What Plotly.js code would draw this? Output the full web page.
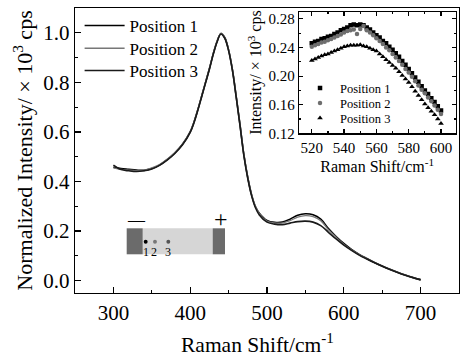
<!DOCTYPE html>
<html>
<head>
<meta charset="utf-8">
<script src="https://cdn.plot.ly/plotly-3.0.1.min.js"></script>
<style>html,body{margin:0;padding:0;background:#fff}#chart{width:460px;height:356px}</style>
</head>
<body>
<div id="chart"></div>
<script>
// Main spectra (normalized)
const mainX = [300,310,320,330,340,350,360,370,380,390,400,405,410,415,420,425,430,435,440,445,450,455,460,465,470,475,480,485,490,500,510,520,530,540,550,560,570,580,590,600,610,620,630,640,650,660,670,680,690,700];
const main1 = [0.458,0.452,0.449,0.446,0.445,0.452,0.466,0.488,0.515,0.550,0.600,0.640,0.690,0.745,0.800,0.855,0.915,0.965,0.997,0.980,0.930,0.850,0.740,0.625,0.505,0.415,0.345,0.298,0.272,0.243,0.235,0.236,0.248,0.264,0.270,0.266,0.248,0.210,0.178,0.150,0.126,0.106,0.089,0.073,0.059,0.046,0.034,0.023,0.013,0.004];
const main2 = [0.455,0.449,0.446,0.444,0.446,0.455,0.468,0.490,0.517,0.552,0.602,0.642,0.692,0.747,0.802,0.857,0.917,0.967,0.998,0.982,0.932,0.852,0.742,0.628,0.508,0.418,0.348,0.300,0.270,0.240,0.233,0.233,0.242,0.256,0.262,0.258,0.242,0.205,0.175,0.147,0.124,0.105,0.088,0.072,0.058,0.045,0.033,0.022,0.012,0.003];
const main3 = [0.466,0.448,0.443,0.440,0.443,0.450,0.465,0.486,0.513,0.548,0.598,0.638,0.688,0.743,0.798,0.853,0.913,0.963,0.995,0.978,0.928,0.848,0.738,0.622,0.502,0.412,0.342,0.294,0.265,0.236,0.228,0.226,0.232,0.238,0.240,0.236,0.222,0.195,0.168,0.143,0.122,0.103,0.087,0.072,0.058,0.045,0.033,0.022,0.012,0.003];

// Inset (raw intensity, x10^3 cps)
const insetX = [520,522,524,526,528,530,532,534,536,538,540,542,544,546,548,550,552,554,556,558,560,562,564,566,568,570,572,574,576,578,580,582,584,586,588,590,592,594,596,598,600];
const inset1 = [0.246,0.248,0.249,0.252,0.253,0.255,0.256,0.259,0.261,0.264,0.266,0.268,0.271,0.272,0.271,0.272,0.271,0.268,0.265,0.261,0.257,0.254,0.249,0.246,0.241,0.237,0.232,0.227,0.221,0.216,0.210,0.204,0.198,0.192,0.186,0.180,0.175,0.169,0.164,0.158,0.152];
const inset2 = [0.241,0.243,0.245,0.247,0.248,0.250,0.252,0.254,0.256,0.258,0.261,0.263,0.264,0.265,0.259,0.266,0.270,0.264,0.261,0.257,0.253,0.249,0.245,0.240,0.236,0.231,0.226,0.221,0.216,0.210,0.205,0.199,0.193,0.187,0.181,0.176,0.170,0.165,0.159,0.153,0.147];
const inset3 = [0.222,0.224,0.226,0.228,0.230,0.231,0.233,0.235,0.237,0.239,0.241,0.242,0.243,0.243,0.243,0.244,0.242,0.241,0.239,0.237,0.235,0.231,0.227,0.223,0.219,0.215,0.211,0.206,0.201,0.196,0.191,0.185,0.179,0.173,0.167,0.161,0.156,0.151,0.146,0.140,0.134];

const seriesNames = ['Position 1','Position 2','Position 3'];
const electrodeLabels = ['—','+'];
const pointLabels = ['1','2','3'];
const mainXTitle = 'Raman Shift/cm<sup>-1</sup>';

const FONT = 'Liberation Serif, Times New Roman, serif';

const traces = [
  {x: mainX, y: main1, name: seriesNames[0], type: 'scatter', mode: 'lines', line: {color: '#000', width: 1.6, shape: 'spline'}, xaxis: 'x', yaxis: 'y', legend: 'legend'},
  {x: mainX, y: main2, name: seriesNames[1], type: 'scatter', mode: 'lines', line: {color: '#777', width: 1.3, shape: 'spline'}, xaxis: 'x', yaxis: 'y', legend: 'legend2'},
  {x: mainX, y: main3, name: seriesNames[2], type: 'scatter', mode: 'lines', line: {color: '#1a1a1a', width: 1.6, shape: 'spline'}, xaxis: 'x', yaxis: 'y', legend: 'legend3'},
  {x: insetX, y: inset1, name: seriesNames[0], type: 'scatter', mode: 'markers', marker: {symbol: 'square', size: 4.5, color: '#000'}, xaxis: 'x2', yaxis: 'y2', legend: 'legend4'},
  {x: insetX, y: inset2, name: seriesNames[1], type: 'scatter', mode: 'markers', marker: {symbol: 'circle', size: 4.5, color: '#6e6e6e'}, xaxis: 'x2', yaxis: 'y2', legend: 'legend5'},
  {x: insetX, y: inset3, name: seriesNames[2], type: 'scatter', mode: 'markers', marker: {symbol: 'triangle-up', size: 5, color: '#000'}, xaxis: 'x2', yaxis: 'y2', legend: 'legend6'}
];

const axisCommon = {
  showline: true, linecolor: '#000', linewidth: 1.3, mirror: true,
  ticks: 'inside', tickcolor: '#000', tickwidth: 1.2,
  showgrid: false, zeroline: false
};

function mkLegend(x, y, size, itemwidth) {
  return {
    x: x, y: y, xanchor: 'left', yanchor: 'middle',
    bgcolor: 'rgba(0,0,0,0)', borderwidth: 0,
    font: {family: FONT, size: size, color: '#000'}, itemwidth: itemwidth
  };
}

function mkNote(x, y, text, size, extra) {
  return Object.assign({xref: 'paper', yref: 'paper', x: x, y: y, text: text, showarrow: false,
    xanchor: 'center', yanchor: 'middle', font: {family: FONT, size: size, color: '#000'}}, extra || {});
}

const layout = {
  width: 460, height: 356,
  margin: {l: 75, r: 1, t: 8, b: 63},
  paper_bgcolor: '#fff', plot_bgcolor: '#fff',
  font: {family: FONT, color: '#000'},
  showlegend: true,
  xaxis: Object.assign({}, axisCommon, {
    domain: [0, 1], anchor: 'y', range: [250, 750],
    tick0: 300, dtick: 100, ticklen: 6,
    minor: {dtick: 50, ticklen: 3, ticks: 'inside', tickcolor: '#000', tickwidth: 1.2},
    tickfont: {family: FONT, size: 21}
  }),
  yaxis: Object.assign({}, axisCommon, {
    domain: [0, 1], anchor: 'x', range: [-0.05, 1.1],
    tick0: 0, dtick: 0.2, ticklen: 6, tickformat: '.1f',
    minor: {dtick: 0.1, ticklen: 3, ticks: 'inside', tickcolor: '#000', tickwidth: 1.2},
    tickfont: {family: FONT, size: 21},
    title: {text: 'Normalized Intensity/ × 10<sup>3</sup> cps', font: {family: FONT, size: 22}, standoff: 4}
  }),
  xaxis2: Object.assign({}, axisCommon, {
    domain: [0.583, 0.991], anchor: 'y2', range: [512, 609],
    tick0: 520, dtick: 20, ticklen: 4, mirror: 'allticks', linewidth: 1.2,
    minor: {dtick: 10, ticklen: 2, ticks: 'inside', tickcolor: '#000'},
    tickfont: {family: FONT, size: 15},
    title: {text: 'Raman Shift/cm<sup>-1</sup>', font: {family: FONT, size: 16}, standoff: 2}
  }),
  yaxis2: Object.assign({}, axisCommon, {
    domain: [0.560, 0.987], anchor: 'x2', range: [0.12, 0.29],
    tick0: 0.12, dtick: 0.04, ticklen: 4, tickformat: '.2f', mirror: 'allticks', linewidth: 1.2,
    minor: {dtick: 0.02, ticklen: 2, ticks: 'inside', tickcolor: '#000'},
    tickfont: {family: FONT, size: 15},
    title: {text: 'Intensity/ × 10<sup>3</sup> cps', font: {family: FONT, size: 16}, standoff: 2}
  }),
  legend: mkLegend(0.012, 0.9368, 17, 40),
  legend2: mkLegend(0.012, 0.8572, 17, 40),
  legend3: mkLegend(0.012, 0.7789, 17, 40),
  legend4: mkLegend(0.586, 0.7182, 12.5, 30),
  legend5: mkLegend(0.586, 0.6656, 12.5, 30),
  legend6: mkLegend(0.586, 0.6130, 12.5, 30),
  shapes: [
    {type: 'rect', xref: 'paper', yref: 'paper', x0: 0.1763, x1: 0.3586, y0: 0.1358, y1: 0.2270, fillcolor: '#d6d6d6', line: {width: 0}},
    {type: 'rect', xref: 'paper', yref: 'paper', x0: 0.1346, x1: 0.1763, y0: 0.1358, y1: 0.2270, fillcolor: '#6b6b6b', line: {width: 0}},
    {type: 'rect', xref: 'paper', yref: 'paper', x0: 0.3586, x1: 0.3906, y0: 0.1358, y1: 0.2270, fillcolor: '#6b6b6b', line: {width: 0}},
    {type: 'circle', xref: 'paper', yref: 'paper', x0: 0.1790, x1: 0.1892, y0: 0.173, y1: 0.187, fillcolor: '#000', line: {width: 0}},
    {type: 'circle', xref: 'paper', yref: 'paper', x0: 0.2032, x1: 0.2134, y0: 0.173, y1: 0.187, fillcolor: '#777', line: {width: 0}},
    {type: 'circle', xref: 'paper', yref: 'paper', x0: 0.2379, x1: 0.2481, y0: 0.173, y1: 0.187, fillcolor: '#555', line: {width: 0}}
  ],
  annotations: [
    mkNote(0.474, -0.1755, mainXTitle, 21.5),
    mkNote(0.1589, 0.2596, electrodeLabels[0], 17),
    mkNote(0.3802, 0.2596, electrodeLabels[1], 24),
    mkNote(0.1849, 0.1439, pointLabels[0], 12),
    mkNote(0.2050, 0.1439, pointLabels[1], 12),
    mkNote(0.2422, 0.1439, pointLabels[2], 12)
  ]
};

Plotly.newPlot('chart', traces, layout, {staticPlot: true, displayModeBar: false});
</script>
</body>
</html>
